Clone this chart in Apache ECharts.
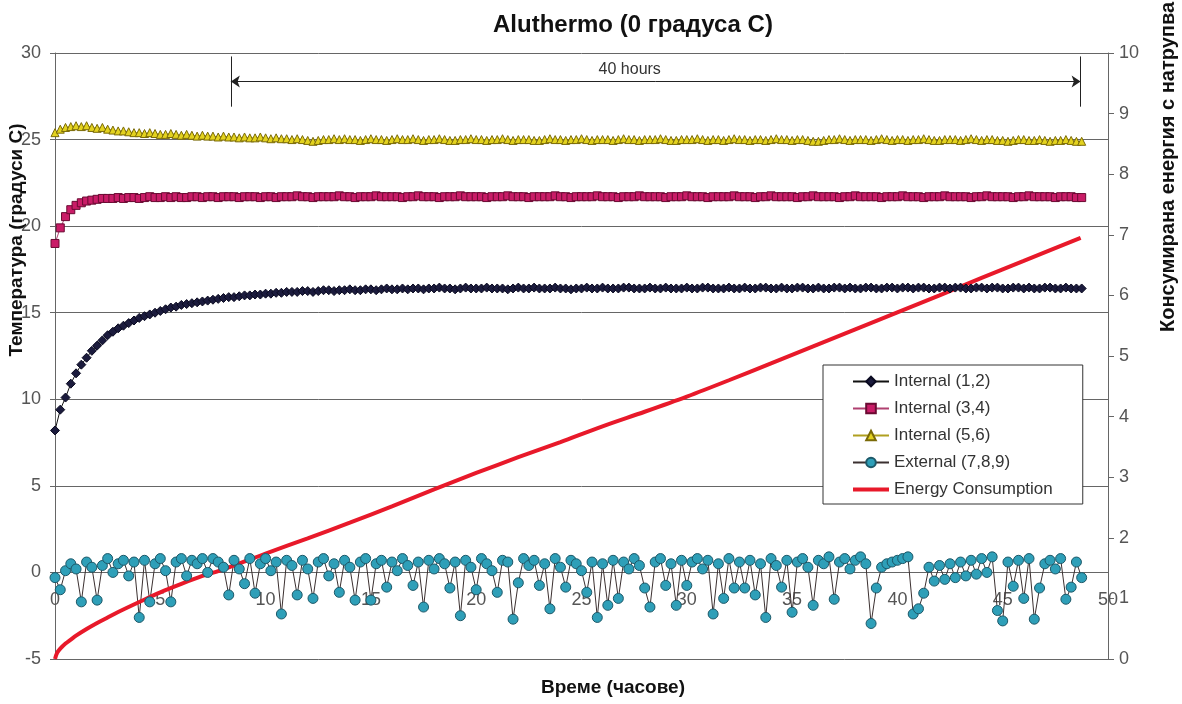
<!doctype html>
<html>
<head>
<meta charset="UTF-8">
<title>Aluthermo (0 градуса С)</title>
<script src="https://cdn.jsdelivr.net/npm/echarts@6/dist/echarts.min.js"></script>
<style>
html, body { margin: 0; padding: 0; background: #fff; }
#chart { width: 1182px; height: 704px; }
</style>
</head>
<body>
<div id="chart"></div>
<script type="text/javascript">
// readings every quarter hour
var stepHours = 0.25;

var internal12 = [
	8.2, 9.4, 10.1, 10.9, 11.5, 12.0, 12.4, 12.8, 13.1, 13.4, 13.7, 13.9, 14.1, 14.25, 14.4, 14.55, 14.7, 14.8, 14.9, 15.0,
	15.1, 15.2, 15.3, 15.35, 15.45, 15.5, 15.55, 15.6, 15.65, 15.7, 15.75, 15.8, 15.85, 15.9, 15.9, 15.95, 16.0, 16.0, 16.05, 16.05,
	16.1, 16.1, 16.15, 16.15, 16.2, 16.2, 16.2, 16.25, 16.25, 16.2, 16.25, 16.3, 16.3, 16.25, 16.3, 16.3, 16.35, 16.3, 16.3, 16.35,
	16.35, 16.3, 16.35, 16.4, 16.35, 16.35, 16.4, 16.35, 16.4, 16.4, 16.35, 16.4, 16.4, 16.45, 16.4, 16.4, 16.35, 16.4, 16.45, 16.4,
	16.4, 16.4, 16.45, 16.4, 16.4, 16.4, 16.35, 16.4, 16.45, 16.4, 16.4, 16.45, 16.4, 16.4, 16.4, 16.45, 16.4, 16.4, 16.35, 16.4,
	16.4, 16.45, 16.4, 16.4, 16.45, 16.4, 16.4, 16.4, 16.45, 16.45, 16.4, 16.4, 16.4, 16.45, 16.4, 16.4, 16.45, 16.4, 16.4, 16.4,
	16.45, 16.4, 16.4, 16.45, 16.45, 16.4, 16.4, 16.4, 16.45, 16.4, 16.4, 16.45, 16.4, 16.4, 16.45, 16.45, 16.4, 16.4, 16.45, 16.4,
	16.4, 16.45, 16.45, 16.4, 16.4, 16.45, 16.4, 16.4, 16.45, 16.45, 16.4, 16.45, 16.4, 16.4, 16.45, 16.45, 16.4, 16.4, 16.45, 16.45,
	16.4, 16.45, 16.45, 16.4, 16.45, 16.45, 16.4, 16.4, 16.45, 16.45, 16.4, 16.45, 16.45, 16.4, 16.4, 16.45, 16.45, 16.4, 16.45, 16.45,
	16.4, 16.4, 16.45, 16.45, 16.4, 16.45, 16.4, 16.4, 16.45, 16.45, 16.4, 16.4, 16.45, 16.4, 16.4, 16.4
];

var internal34 = [
	19.0, 19.9, 20.55, 20.95, 21.2, 21.35, 21.45, 21.5, 21.55, 21.6, 21.6, 21.6, 21.65, 21.6, 21.65, 21.65, 21.6, 21.65, 21.7, 21.65,
	21.65, 21.7, 21.65, 21.7, 21.65, 21.65, 21.7, 21.7, 21.65, 21.7, 21.7, 21.65, 21.7, 21.7, 21.7, 21.65, 21.7, 21.7, 21.7, 21.65,
	21.7, 21.7, 21.65, 21.7, 21.7, 21.7, 21.75, 21.7, 21.7, 21.65, 21.7, 21.7, 21.7, 21.7, 21.75, 21.7, 21.7, 21.65, 21.7, 21.7,
	21.7, 21.75, 21.7, 21.7, 21.7, 21.7, 21.65, 21.7, 21.7, 21.75, 21.7, 21.7, 21.7, 21.65, 21.7, 21.7, 21.7, 21.75, 21.7, 21.7,
	21.7, 21.7, 21.65, 21.7, 21.7, 21.7, 21.75, 21.7, 21.7, 21.7, 21.65, 21.7, 21.7, 21.7, 21.7, 21.75, 21.7, 21.7, 21.65, 21.7,
	21.7, 21.7, 21.7, 21.75, 21.7, 21.7, 21.7, 21.65, 21.7, 21.7, 21.7, 21.75, 21.7, 21.7, 21.7, 21.7, 21.65, 21.7, 21.7, 21.7,
	21.75, 21.7, 21.7, 21.7, 21.65, 21.7, 21.7, 21.7, 21.7, 21.75, 21.7, 21.7, 21.7, 21.65, 21.7, 21.7, 21.75, 21.7, 21.7, 21.7,
	21.7, 21.65, 21.7, 21.7, 21.75, 21.7, 21.7, 21.7, 21.7, 21.65, 21.7, 21.7, 21.75, 21.7, 21.7, 21.7, 21.7, 21.65, 21.7, 21.7,
	21.7, 21.75, 21.7, 21.7, 21.7, 21.65, 21.7, 21.7, 21.7, 21.75, 21.7, 21.7, 21.7, 21.7, 21.65, 21.7, 21.7, 21.75, 21.7, 21.7,
	21.7, 21.7, 21.65, 21.7, 21.7, 21.75, 21.7, 21.7, 21.7, 21.7, 21.65, 21.7, 21.7, 21.7, 21.65, 21.65
];

var internal56 = [
	25.4, 25.6, 25.7, 25.75, 25.8, 25.75, 25.8, 25.7, 25.65, 25.7, 25.6, 25.55, 25.5, 25.5, 25.45, 25.4, 25.4, 25.35, 25.4, 25.35,
	25.3, 25.3, 25.35, 25.3, 25.25, 25.3, 25.25, 25.2, 25.25, 25.2, 25.2, 25.15, 25.2, 25.15, 25.15, 25.1, 25.15, 25.1, 25.1, 25.15,
	25.1, 25.05, 25.1, 25.05, 25.05, 25.0, 25.05, 25.0, 24.95, 24.9, 24.95, 25.0, 25.0, 25.05, 25.0, 25.05, 25.0, 25.0, 24.95, 25.0,
	25.05, 25.0, 25.0, 24.95, 25.0, 25.05, 25.0, 25.0, 25.05, 25.0, 24.95, 25.0, 25.0, 25.05, 25.0, 24.95, 24.95, 25.0, 25.0, 25.05,
	25.0, 25.0, 24.95, 25.0, 25.0, 25.05, 25.0, 24.95, 25.0, 25.0, 25.0, 24.95, 24.95, 25.0, 25.05, 25.0, 25.0, 24.95, 25.0, 25.0,
	25.05, 25.0, 24.95, 25.0, 25.0, 25.0, 24.95, 25.0, 25.05, 25.0, 25.0, 24.95, 25.0, 25.0, 25.0, 25.05, 25.0, 24.95, 24.95, 25.0,
	25.0, 25.0, 25.05, 25.0, 24.95, 25.0, 25.0, 24.95, 25.0, 25.05, 25.0, 25.0, 24.95, 25.0, 25.0, 24.95, 25.0, 25.05, 25.0, 25.0,
	24.95, 25.0, 25.0, 24.95, 24.9, 24.9, 24.95, 25.0, 25.0, 25.05, 25.0, 24.95, 25.0, 25.0, 25.0, 24.95, 25.0, 25.05, 25.0, 24.95,
	25.0, 25.0, 24.95, 25.0, 25.0, 25.05, 25.0, 24.95, 24.95, 25.0, 25.0, 25.0, 24.95, 25.0, 25.05, 25.0, 24.95, 25.0, 25.0, 24.95,
	24.95, 24.9, 24.95, 25.0, 25.0, 24.95, 24.95, 25.0, 24.95, 24.9, 24.95, 24.95, 25.0, 24.95, 24.9, 24.9
];

var external789 = [
	-0.3, -1.0, 0.1, 0.5, 0.2, -1.7, 0.6, 0.3, -1.6, 0.4, 0.8, 0.0, 0.5, 0.7, -0.2, 0.6, -2.6, 0.7, -1.7, 0.5,
	0.8, 0.1, -1.7, 0.6, 0.8, -0.2, 0.7, 0.5, 0.8, 0.0, 0.8, 0.6, 0.3, -1.3, 0.7, 0.2, -0.65, 0.8, -1.2, 0.5,
	0.8, 0.1, 0.6, -2.4, 0.7, 0.4, -1.3, 0.7, 0.2, -1.5, 0.6, 0.8, -0.2, 0.5, -1.15, 0.7, 0.3, -1.6, 0.6, 0.8,
	-1.6, 0.5, 0.7, -0.85, 0.6, 0.1, 0.8, 0.4, -0.75, 0.6, -2.0, 0.7, 0.2, 0.8, 0.5, -0.9, 0.6, -2.5, 0.7, 0.3,
	-1.0, 0.8, 0.5, 0.1, -1.15, 0.7, 0.6, -2.7, -0.6, 0.8, 0.4, 0.7, -0.75, 0.5, -2.1, 0.8, 0.3, -0.85, 0.7, 0.5,
	0.1, -1.15, 0.6, -2.6, 0.5, -1.9, 0.7, -1.5, 0.6, 0.2, 0.8, 0.4, -0.9, -2.0, 0.6, 0.8, -0.75, 0.5, -1.9, 0.7,
	-0.75, 0.6, 0.8, 0.2, 0.7, -2.4, 0.5, -1.5, 0.8, -0.9, 0.6, -0.9, 0.7, -1.3, 0.5, -2.6, 0.8, 0.4, -0.85, 0.7,
	-2.3, 0.6, 0.8, 0.3, -1.9, 0.7, 0.5, 0.9, -1.55, 0.6, 0.8, 0.2, 0.7, 0.9, 0.5, -2.95, -0.9, 0.3, 0.5, 0.6,
	0.7, 0.8, 0.9, -2.4, -2.1, -1.2, 0.3, -0.5, 0.4, -0.4, 0.5, -0.3, 0.6, -0.2, 0.7, -0.1, 0.8, 0.0, 0.9, -2.2,
	-2.8, 0.6, -0.8, 0.7, -1.5, 0.8, -2.7, -0.9, 0.5, 0.7, 0.2, 0.8, -1.55, -0.85, 0.6, -0.3
];

// cumulative energy (right axis)
var energyHours = [0, 0.1, 0.25, 0.5, 0.75, 1, 1.5, 2, 2.5, 3, 4, 5, 6, 7, 8, 10, 12, 14, 16, 18, 20, 22, 24, 26, 28, 30, 32, 34, 36, 38, 40, 42, 44, 46, 48.7];
var energyKwh = [0, 0.1, 0.17, 0.255, 0.32, 0.385, 0.495, 0.595, 0.685, 0.775, 0.94, 1.1, 1.24, 1.37, 1.48, 1.74, 1.99, 2.25, 2.52, 2.8, 3.07, 3.33, 3.58, 3.84, 4.08, 4.33, 4.6, 4.88, 5.16, 5.44, 5.72, 6.0, 6.29, 6.57, 6.95];

// "40 hours" bracket, in axis units
var spanFrom = 8.35;
var spanTo = 48.7;
var spanArrowY = 28.35;
var spanBarTop = 29.8;
var spanBarBottom = 26.9;

var fontFamily = '"Liberation Sans", Arial, sans-serif';

function toPairs(values) {
	return values.map(function(v, i) {
		return [i * stepHours, v];
	});
}

var energyData = energyHours.map(function(h, i) {
	return [h, energyKwh[i]];
});

var chart = echarts.init(document.getElementById('chart'));
var option = {
	animation: false,
	backgroundColor: '#fff',
	title: {
		text: 'Aluthermo (0 градуса С)',
		left: 488,
		top: 8,
		textStyle: {
			fontFamily: fontFamily,
			fontSize: 24,
			fontWeight: 'bold',
			color: '#111'
		}
	},
	legend: {
		orient: 'vertical',
		left: 823,
		top: 365,
		padding: [8, 30, 6, 29],
		itemWidth: 36,
		itemHeight: 12,
		itemGap: 10,
		backgroundColor: '#fff',
		borderColor: '#333',
		borderWidth: 1,
		borderRadius: 0,
		textStyle: {
			fontFamily: fontFamily,
			fontSize: 17,
			color: '#333'
		},
		data: ['Internal (1,2)', 'Internal (3,4)', 'Internal (5,6)', 'External (7,8,9)', {
			name: 'Energy Consumption',
			icon: 'path://M0,0H36V4H0Z'
		}]
	},
	grid: {
		left: 55,
		right: 74,
		top: 53,
		bottom: 45
	},
	xAxis: {
		type: 'value',
		position: 'bottom',
		// axis drawn where the left scale crosses 0
		offset: -87,
		min: 0,
		max: 50,
		interval: 5,
		axisLine: {
			onZero: false,
			lineStyle: { color: '#666', width: 1 }
		},
		axisTick: { show: false },
		splitLine: { show: false },
		axisLabel: {
			fontFamily: fontFamily,
			fontSize: 18,
			color: '#555',
			margin: 19
		}
	},
	yAxis: [{
		type: 'value',
		position: 'left',
		min: -5,
		max: 30,
		interval: 5,
		axisLine: { show: true, lineStyle: { color: '#666', width: 1 } },
		axisTick: { show: true, length: 5, lineStyle: { color: '#666' } },
		splitLine: { show: true, lineStyle: { color: '#666', width: 1 } },
		axisLabel: {
			fontFamily: fontFamily,
			fontSize: 18,
			color: '#555',
			margin: 14
		}
	}, {
		type: 'value',
		position: 'right',
		min: 0,
		max: 10,
		interval: 1,
		axisLine: { show: true, lineStyle: { color: '#666', width: 1 } },
		axisTick: { show: true, length: 6, lineStyle: { color: '#666' } },
		splitLine: { show: false },
		axisLabel: {
			fontFamily: fontFamily,
			fontSize: 18,
			color: '#555',
			margin: 11
		}
	}],
	graphic: [{
		type: 'text',
		x: 17,
		y: 240,
		rotation: Math.PI / 2,
		style: {
			text: 'Температура (градуси С)',
			font: 'bold 19px ' + fontFamily,
			fill: '#111',
			textAlign: 'center',
			textVerticalAlign: 'middle'
		}
	}, {
		type: 'text',
		x: 1168,
		y: 332,
		rotation: Math.PI / 2,
		style: {
			text: 'Консумирана енергия с натрупва',
			font: 'bold 20px ' + fontFamily,
			fill: '#111',
			textAlign: 'left',
			textVerticalAlign: 'middle'
		}
	}, {
		type: 'text',
		x: 613,
		y: 688,
		style: {
			text: 'Време (часове)',
			font: 'bold 19px ' + fontFamily,
			fill: '#111',
			textAlign: 'center',
			textVerticalAlign: 'middle'
		}
	}],
	series: [{
		name: 'Internal (1,2)',
		type: 'line',
		data: toPairs(internal12),
		symbol: 'diamond',
		symbolSize: 9,
		itemStyle: { color: '#1b1b3d', borderColor: '#0a0a20', borderWidth: 1 },
		lineStyle: { color: '#111', width: 1 }
	}, {
		name: 'Internal (3,4)',
		type: 'line',
		data: toPairs(internal34),
		symbol: 'rect',
		symbolSize: 8,
		itemStyle: { color: '#c91c67', borderColor: '#6a0a32', borderWidth: 1 },
		lineStyle: { color: '#b04070', width: 1 }
	}, {
		name: 'Internal (5,6)',
		type: 'line',
		data: toPairs(internal56),
		symbol: 'triangle',
		symbolSize: 8,
		itemStyle: { color: '#e3d21f', borderColor: '#7a6a08', borderWidth: 1 },
		lineStyle: { color: '#b0a020', width: 1 },
		markLine: {
			silent: true,
			symbol: ['none', 'none'],
			lineStyle: { color: '#222', width: 1, type: 'solid' },
			label: { show: false },
			data: [
				[{
					coord: [spanFrom, spanArrowY],
					symbol: 'arrow',
					symbolSize: 9
				}, {
					coord: [spanTo, spanArrowY],
					symbol: 'arrow',
					symbolSize: 9,
					label: {
						show: true,
						position: 'middle',
						formatter: '40 hours',
						fontFamily: fontFamily,
						fontSize: 16,
						color: '#333',
						distance: 4,
						padding: [0, 52, 0, 0]
					}
				}],
				[{ coord: [spanFrom, spanBarTop] }, { coord: [spanFrom, spanBarBottom] }],
				[{ coord: [spanTo, spanBarTop] }, { coord: [spanTo, spanBarBottom] }]
			]
		}
	}, {
		name: 'External (7,8,9)',
		type: 'line',
		data: toPairs(external789),
		symbol: 'circle',
		symbolSize: 10,
		itemStyle: { color: '#2e9fb8', borderColor: '#1d5868', borderWidth: 1 },
		lineStyle: { color: '#3b3030', width: 1 }
	}, {
		name: 'Energy Consumption',
		type: 'line',
		yAxisIndex: 1,
		data: energyData,
		symbol: 'none',
		smooth: 0.3,
		itemStyle: { color: '#e8192a' },
		lineStyle: { color: '#e8192a', width: 4 }
	}]
};
chart.setOption(option);
</script>
</body>
</html>
